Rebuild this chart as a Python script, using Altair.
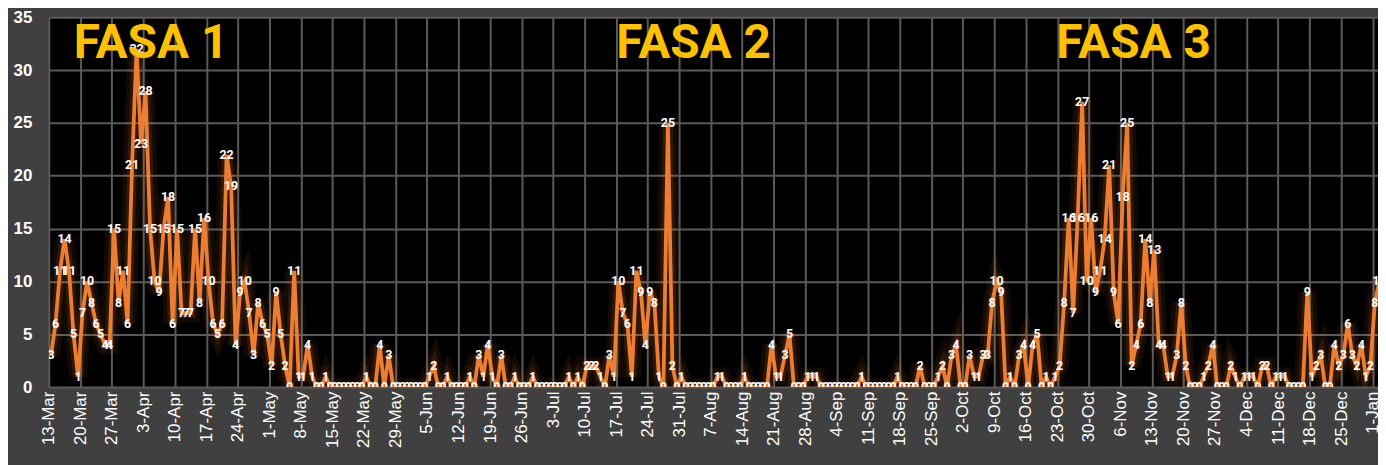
import json
import altair as alt
import pandas as pd

# daily values, starting 13-Mar
values = [
    3, 6, 11, 14, 11, 5, 1, 7, 10, 8, 6, 5, 4, 4,
    15, 8, 11, 6, 21, 32, 23, 28, 15, 10, 9, 15, 18, 6,
    15, 7, 7, 7, 15, 8, 16, 10, 6, 5, 6, 22, 19, 4,
    9, 10, 7, 3, 8, 6, 5, 2, 9, 5, 2, 0, 11, 1,
    1, 4, 1, 0, 0, 1, 0, 0, 0, 0, 0, 0, 0, 0,
    1, 0, 0, 4, 0, 3, 0, 0, 0, 0, 0, 0, 0, 0,
    1, 2, 0, 0, 1, 0, 0, 0, 0, 1, 0, 3, 1, 4,
    1, 0, 3, 0, 0, 1, 0, 0, 0, 1, 0, 0, 0, 0,
    0, 0, 0, 1, 0, 1, 0, 2, 2, 2, 1, 0, 3, 1,
    10, 7, 6, 1, 11, 9, 4, 9, 8, 1, 0, 25, 2, 0,
    1, 0, 0, 0, 0, 0, 0, 0, 1, 1, 0, 0, 0, 0,
    1, 0, 0, 0, 0, 0, 4, 1, 1, 3, 5, 0, 0, 0,
    1, 1, 1, 0, 0, 0, 0, 0, 0, 0, 0, 0, 1, 0,
    0, 0, 0, 0, 0, 0, 1, 0, 0, 0, 0, 2, 0, 0,
    0, 1, 2, 0, 3, 4, 0, 0, 3, 1, 1, 3, 3, 8,
    10, 9, 0, 1, 0, 3, 4, 0, 4, 5, 0, 1, 0, 1,
    2, 8, 16, 7, 16, 27, 10, 16, 9, 11, 14, 21, 9, 6,
    18, 25, 2, 4, 6, 14, 8, 13, 4, 4, 1, 1, 3, 8,
    2, 0, 0, 0, 1, 2, 4, 0, 0, 0, 2, 1, 0, 1,
    1, 1, 0, 2, 2, 0, 1, 1, 1, 0, 0, 0, 0, 9,
    1, 2, 3, 0, 0, 4, 2, 3, 6, 3, 2, 4, 1, 2,
    8, 10, 5,
]

tick_labels = [
    "13-Mar", "20-Mar", "27-Mar", "3-Apr", "10-Apr", "17-Apr", "24-Apr",
    "1-May", "8-May", "15-May", "22-May", "29-May", "5-Jun", "12-Jun",
    "19-Jun", "26-Jun", "3-Jul", "10-Jul", "17-Jul", "24-Jul", "31-Jul",
    "7-Aug", "14-Aug", "21-Aug", "28-Aug", "4-Sep", "11-Sep", "18-Sep",
    "25-Sep", "2-Oct", "9-Oct", "16-Oct", "23-Oct", "30-Oct", "6-Nov",
    "13-Nov", "20-Nov", "27-Nov", "4-Dec", "11-Dec", "18-Dec", "25-Dec",
    "1-Jan",
]
tick_days = [7 * i for i in range(len(tick_labels))]
y_ticks = [0, 5, 10, 15, 20, 25, 30, 35]

phase_names = ["FASA 1", "FASA 2", "FASA 3"]
phase_day = [22.7, 143.2, 240.9]
phase_y = [31.1, 31.1, 31.1]

ORANGE = "#ED7D31"
GRID = "#5a5a5a"
NARROW = "Roboto, Liberation Sans, sans-serif"

df = pd.DataFrame({"day": list(range(len(values))), "casi": values})
df_phase = pd.DataFrame({"pos": phase_day, "casi": phase_y, "name": phase_names})

label_expr = json.dumps(tick_labels) + "[round(datum.value / 7)]"

x_enc = alt.X(
    "pos:Q",
    scale=alt.Scale(domain=[0, 295.2], nice=False, zero=False),
    axis=alt.Axis(
        values=tick_days, labelExpr=label_expr, labelAngle=-90, title=None,
        labelFont="Liberation Sans", labelFontSize=17, labelColor="#ffffff",
        labelPadding=4, labelOverlap=False, ticks=False, domain=False,
        grid=True, gridColor=GRID, gridWidth=2,
    ),
)
y_enc = alt.Y(
    "casi:Q",
    scale=alt.Scale(domain=[0, 35], nice=False),
    axis=alt.Axis(
        values=y_ticks, title=None, labelFont="Liberation Sans",
        labelFontSize=17, labelFontWeight="bold", labelColor="#ffffff",
        labelPadding=17, labelOverlap=False, ticks=False, domain=False,
        grid=True, gridColor=GRID, gridWidth=2,
    ),
)

base = alt.Chart(df).transform_calculate(pos="datum.day + 0.5").encode(x=x_enc, y=y_enc)

glow1 = base.mark_line(color=ORANGE, strokeWidth=18, opacity=0.08, clip=True)
glow2 = base.mark_line(color=ORANGE, strokeWidth=10, opacity=0.13, clip=True)
line = base.mark_line(color=ORANGE, strokeWidth=3.8, clip=True)
labels = base.mark_text(
    color="#ffffff", font=NARROW, fontSize=12.5, fontWeight="bold",
    align="center", baseline="middle", clip=True,
).encode(text="casi:Q")

phases = alt.Chart(df_phase).mark_text(
    color="#FFC000", font=NARROW, fontSize=48, fontWeight="bold",
    align="center", baseline="alphabetic",
).encode(x=x_enc, y=y_enc, text="name:N")

chart = (
    alt.layer(glow1, glow2, line, labels, phases)
    .properties(
        width=1337, height=372,
        padding={"left": 41, "top": 8, "right": 0, "bottom": 77},
        autosize=alt.AutoSizeParams(type="none"),
        background="#404040",
    )
    .configure_view(fill="#000000", strokeWidth=0)
    .configure_axis(labelOverlap=False)
)

chart.save("out.html", embed_options={"renderer": "svg", "actions": False})
